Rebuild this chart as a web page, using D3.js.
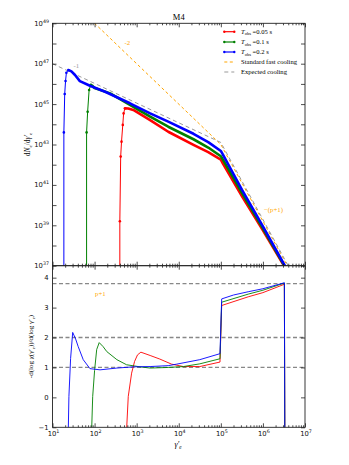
<!DOCTYPE html>
<html>
<head>
<meta charset="utf-8">
<script src="https://cdn.jsdelivr.net/npm/d3@7/dist/d3.min.js"></script>
<style>
  body { margin: 0; background: #fff; }
  svg { display: block; }
</style>
</head>
<body>
<div id="chart"></div>
<script>
// ---- data (log10 values) ----
var seriesNames = ["0.05 s", "0.1 s", "0.2 s"];
var seriesColors = ["#ff0000", "#008000", "#0000ff"];

// top panel: log10(gamma'_e) and log10(dN/dgamma)
var redTopLx   = [2.6, 2.6, 2.62, 2.64, 2.67, 2.69, 2.72, 2.8, 2.92, 3.32, 3.75, 4.35, 4.7, 5.0, 5.05, 5.5, 6.0, 6.5, 6.53];
var redTopLy   = [36, 39.2, 42.4, 43.14, 43.97, 44.54, 44.79, 44.78, 44.71, 44.21, 43.63, 42.98, 42.62, 42.25, 42.05, 40.45, 38.75, 37.0, 36];
var greenTopLx = [1.81, 1.81, 1.835, 1.87, 1.91, 1.95, 2.0, 2.37, 2.84, 3.32, 3.75, 4.35, 4.7, 5.0, 5.05, 5.5, 6.0, 6.51, 6.53];
var greenTopLy = [36, 43.6, 44.62, 45.7, 45.95, 45.9, 45.8, 45.53, 44.96, 44.38, 43.88, 43.26, 42.85, 42.42, 42.25, 40.6, 38.85, 37.0, 36];
var blueTopLx  = [1.27, 1.27, 1.29, 1.31, 1.33, 1.375, 1.45, 1.535, 1.65, 1.89, 2.25, 2.84, 3.32, 3.75, 4.35, 4.7, 5.0, 5.05, 5.5, 6.0, 6.52, 6.54];
var blueTopLy  = [36, 43.6, 45.5, 46.14, 46.55, 46.69, 46.62, 46.44, 46.14, 45.91, 45.61, 45.04, 44.54, 44.13, 43.53, 43.12, 42.68, 42.5, 40.77, 38.95, 37.0, 36];

// reference slopes
var fastLx = [1.9, 5.0, 6.6];
var fastLy = [49.2, 43.0, 36.92];
var expectedLx = [1.0, 5.0, 6.6];
var expectedLy = [47.0, 43.1, 37.0];

// bottom panel: log10(gamma'_e) and local slope
var redBotLx   = [2.76, 2.8, 2.88, 2.95, 3.02, 3.1, 3.32, 3.55, 3.83, 4.11, 4.5, 4.98, 5.02, 5.65, 6.0, 6.51, 6.52];
var redBotV    = [-1.1, 0.03, 0.81, 1.2, 1.42, 1.51, 1.4, 1.28, 1.11, 1.03, 1.03, 1.18, 3.07, 3.36, 3.5, 3.78, -1.1];
var greenBotLx = [1.93, 1.955, 2.0, 2.05, 2.11, 2.2, 2.29, 2.53, 2.76, 3.08, 3.32, 3.75, 4.11, 4.5, 4.98, 5.02, 5.65, 6.0, 6.51, 6.52];
var greenBotV  = [-1.1, 0.03, 0.9, 1.6, 1.83, 1.7, 1.53, 1.26, 1.09, 1.02, 0.98, 1.0, 1.03, 1.12, 1.29, 3.18, 3.45, 3.58, 3.82, -1.1];
var blueBotLx  = [1.375, 1.39, 1.43, 1.48, 1.55, 1.61, 1.73, 1.89, 2.13, 2.53, 2.92, 3.32, 3.75, 3.95, 4.5, 4.98, 5.02, 5.3, 5.65, 6.0, 6.51, 6.52];
var blueBotV   = [-1.1, 0.03, 1.3, 2.17, 1.95, 1.7, 1.26, 0.96, 0.92, 0.98, 1.02, 1.03, 1.06, 1.11, 1.26, 1.46, 3.29, 3.42, 3.53, 3.63, 3.83, -1.1];

var refLevels = [1, 2, 3.8];
var topTickExps = [37, 38, 39, 40, 41, 42, 43, 44, 45, 46, 47, 48, 49];
var xTickExps = [1, 2, 3, 4, 5, 6, 7];
var botTicks = [-1, 0, 1, 2, 3, 4];

var topSeries = [
  { lx: redTopLx, ly: redTopLy },
  { lx: greenTopLx, ly: greenTopLy },
  { lx: blueTopLx, ly: blueTopLy }
];
var botSeries = [
  { lx: redBotLx, v: redBotV },
  { lx: greenBotLx, v: greenBotV },
  { lx: blueBotLx, v: blueBotV }
];

// ---- layout ----
var width = 349, height = 465;
var left = 52.5, right = 305, top1 = 23.3, mid = 265.7, bottom = 427.3;
var serif = "'Liberation Serif', 'DejaVu Serif', serif";

var svg = d3.select("#chart").append("svg")
  .attr("width", width).attr("height", height);

var x = d3.scaleLog().domain([1e1, 1e7]).range([left, right]);
var yTop = d3.scaleLog().domain([1e37, 1e49]).range([mid, top1]);
var yBot = d3.scaleLinear().domain([-1, 4.4]).range([bottom, mid]);

var p10 = function(e) { return Math.pow(10, e); };

var defs = svg.append("defs");
defs.append("clipPath").attr("id", "clipTop").append("rect")
  .attr("x", left).attr("y", top1).attr("width", right - left).attr("height", mid - top1);
defs.append("clipPath").attr("id", "clipBot").append("rect")
  .attr("x", left).attr("y", mid).attr("width", right - left).attr("height", bottom - mid);

// ---- top panel ----
var gTop = svg.append("g").attr("clip-path", "url(#clipTop)");

var lineTop = d3.line()
  .x(function(d) { return x(p10(d[0])); })
  .y(function(d) { return yTop(p10(d[1])); });

gTop.append("path")
  .datum(d3.zip(fastLx, fastLy))
  .attr("d", lineTop)
  .attr("fill", "none").attr("stroke", "#ffa500")
  .attr("stroke-width", 1).attr("stroke-dasharray", "3,2.5");

gTop.append("path")
  .datum(d3.zip(expectedLx, expectedLy))
  .attr("d", lineTop)
  .attr("fill", "none").attr("stroke", "#999")
  .attr("stroke-width", 1).attr("stroke-dasharray", "4,3");

topSeries.forEach(function(s, i) {
  var pts = d3.zip(s.lx, s.ly);
  var peak = d3.maxIndex(s.ly);
  gTop.append("path")
    .datum(pts)
    .attr("d", lineTop)
    .attr("fill", "none").attr("stroke", seriesColors[i])
    .attr("stroke-width", 1);
  gTop.append("path")
    .datum(pts.slice(peak))
    .attr("d", lineTop)
    .attr("fill", "none").attr("stroke", seriesColors[i])
    .attr("stroke-width", 2.6).attr("stroke-linejoin", "round");
  gTop.selectAll(null)
    .data(pts.slice(1, peak + 1))
    .enter().append("circle")
    .attr("cx", function(d) { return x(p10(d[0])); })
    .attr("cy", function(d) { return yTop(p10(d[1])); })
    .attr("r", 1.3)
    .attr("fill", seriesColors[i]);
});

// ---- bottom panel ----
var gBot = svg.append("g").attr("clip-path", "url(#clipBot)");

gBot.selectAll(".ref")
  .data(refLevels)
  .enter().append("line")
  .attr("x1", left).attr("x2", right)
  .attr("y1", function(d) { return yBot(d); })
  .attr("y2", function(d) { return yBot(d); })
  .attr("stroke", "#888").attr("stroke-width", 1.3)
  .attr("stroke-dasharray", "4,2.5");

var lineBot = d3.line()
  .x(function(d) { return x(p10(d[0])); })
  .y(function(d) { return yBot(d[1]); });

botSeries.forEach(function(s, i) {
  gBot.append("path")
    .datum(d3.zip(s.lx, s.v))
    .attr("d", lineBot)
    .attr("fill", "none").attr("stroke", seriesColors[i])
    .attr("stroke-width", 0.9);
});

// ---- axes ----
var decadeVals = xTickExps.map(p10);
var minorVals = [];
xTickExps.slice(0, -1).forEach(function(e) {
  d3.range(2, 10).forEach(function(m) { minorVals.push(m * p10(e)); });
});

function xTicks(y, dir) {
  var major = dir > 0 ? d3.axisBottom(x) : d3.axisTop(x);
  svg.append("g").attr("transform", "translate(0," + y + ")")
    .call(major.tickValues(decadeVals).tickSize(-4).tickSizeOuter(0).tickFormat(""))
    .call(function(g) { g.select(".domain").remove(); });
  var minor = dir > 0 ? d3.axisBottom(x) : d3.axisTop(x);
  svg.append("g").attr("transform", "translate(0," + y + ")")
    .call(minor.tickValues(minorVals).tickSize(-2).tickSizeOuter(0).tickFormat(""))
    .call(function(g) { g.select(".domain").remove(); });
}
xTicks(top1, -1);
xTicks(mid, 1);
xTicks(mid, -1);
xTicks(bottom, 1);

// top y axis (left + right)
var topVals = topTickExps.map(p10);
svg.append("g").attr("transform", "translate(" + left + ",0)")
  .call(d3.axisLeft(yTop).tickValues(topVals).tickSize(-4).tickSizeOuter(0).tickFormat(""))
  .call(function(g) { g.select(".domain").remove(); });
svg.append("g").attr("transform", "translate(" + right + ",0)")
  .call(d3.axisRight(yTop).tickValues(topVals).tickSize(-4).tickSizeOuter(0).tickFormat(""))
  .call(function(g) { g.select(".domain").remove(); });

// bottom y axis (left + right)
svg.append("g").attr("transform", "translate(" + left + ",0)")
  .call(d3.axisLeft(yBot).tickValues(botTicks).tickSize(-4).tickSizeOuter(0).tickFormat(""))
  .call(function(g) { g.select(".domain").remove(); });
svg.append("g").attr("transform", "translate(" + right + ",0)")
  .call(d3.axisRight(yBot).tickValues(botTicks).tickSize(-4).tickSizeOuter(0).tickFormat(""))
  .call(function(g) { g.select(".domain").remove(); });

svg.selectAll(".tick line").attr("stroke", "#000").attr("stroke-width", 0.7);

// frames
[[top1, mid], [mid, bottom]].forEach(function(r) {
  svg.append("rect")
    .attr("x", left).attr("y", r[0])
    .attr("width", right - left).attr("height", r[1] - r[0])
    .attr("fill", "none").attr("stroke", "#222").attr("stroke-width", 0.9);
});

// tick labels
function powLabel(sel, base, exp) {
  sel.append("tspan").text(base);
  sel.append("tspan").attr("dy", -3).attr("font-size", 4.8).text(exp);
}

topTickExps.filter(function(e) { return e % 2 === 1; }).forEach(function(e) {
  var t = svg.append("text")
    .attr("x", left - 3.5).attr("y", yTop(p10(e)) + 2.5)
    .attr("text-anchor", "end")
    .attr("font-family", "'DejaVu Sans', sans-serif").attr("font-size", 6.8)
    .attr("fill", "#111");
  powLabel(t, "10", e);
});

xTickExps.forEach(function(e) {
  var t = svg.append("text")
    .attr("x", x(p10(e)) + 1).attr("y", bottom + 8.5)
    .attr("text-anchor", "middle")
    .attr("font-family", "'DejaVu Sans', sans-serif").attr("font-size", 6.8)
    .attr("fill", "#111");
  powLabel(t, "10", e);
});

botTicks.forEach(function(v) {
  svg.append("text")
    .attr("x", left - 4).attr("y", yBot(v) + 2.5)
    .attr("text-anchor", "end")
    .attr("font-family", "'DejaVu Sans', sans-serif").attr("font-size", 6.8)
    .attr("fill", "#111")
    .text(v < 0 ? "\u2212" + Math.abs(v) : v);
});

// title
svg.append("text")
  .attr("x", (left + right) / 2).attr("y", 20)
  .attr("text-anchor", "middle")
  .attr("font-family", serif).attr("font-size", 8.5)
  .text("M4");

// axis labels
var yl1 = svg.append("text")
  .attr("transform", "translate(30," + ((top1 + mid) / 2) + ") rotate(-90)")
  .attr("text-anchor", "middle")
  .attr("font-family", serif).attr("font-size", 7.5);
yl1.append("tspan").text("d");
yl1.append("tspan").attr("font-style", "italic").text("N");
yl1.append("tspan").attr("dy", 1.8).attr("font-size", 5).text("e");
yl1.append("tspan").attr("dy", -1.8).text("/d");
yl1.append("tspan").attr("font-style", "italic").text("γ′");
yl1.append("tspan").attr("dy", 1.8).attr("font-size", 5).text("e");

var yl2 = svg.append("text")
  .attr("transform", "translate(33," + ((mid + bottom) / 2) + ") rotate(-90)")
  .attr("text-anchor", "middle")
  .attr("font-family", serif).attr("font-size", 7);
yl2.append("tspan").text("-d(log χ(γ′");
yl2.append("tspan").attr("dy", 1.8).attr("font-size", 4.8).text("e");
yl2.append("tspan").attr("dy", -1.8).text("))/d(log γ′");
yl2.append("tspan").attr("dy", 1.8).attr("font-size", 4.8).text("e");
yl2.append("tspan").attr("dy", -1.8).text(")");

var xl = svg.append("text")
  .attr("x", 178).attr("y", 447)
  .attr("text-anchor", "middle")
  .attr("font-family", serif).attr("font-size", 8).attr("font-style", "italic");
xl.append("tspan").text("γ′");
xl.append("tspan").attr("dy", 2).attr("font-size", 5.2).text("e");

// annotations
svg.append("text").attr("x", 124.5).attr("y", 45)
  .attr("font-family", serif).attr("font-size", 6.8).attr("fill", "#ffa500").text("-2");
svg.append("text").attr("x", 73.5).attr("y", 68)
  .attr("font-family", serif).attr("font-size", 6.8).attr("fill", "#999").text("-1");
svg.append("text").attr("x", 264).attr("y", 211.5)
  .attr("font-family", serif).attr("font-size", 6.8).attr("fill", "#ffa500")
  .text("\u2212(p+1)");
svg.append("text").attr("x", 95).attr("y", 295.5)
  .attr("font-family", serif).attr("font-size", 6.8).attr("fill", "#ffa500")
  .text("p+1");

// legend
var legend = svg.append("g").attr("font-family", serif).attr("font-size", 6.6);
var lx0 = 224.3, lx1 = 234.3, ltx = 241;
var rows = [31.7, 42, 52, 62, 72];

seriesNames.forEach(function(name, i) {
  var yy = rows[i];
  legend.append("line")
    .attr("x1", lx0).attr("x2", lx1).attr("y1", yy).attr("y2", yy)
    .attr("stroke", seriesColors[i]).attr("stroke-width", 1.2);
  [lx0, lx1].forEach(function(cx) {
    legend.append("circle").attr("cx", cx).attr("cy", yy).attr("r", 1.2)
      .attr("fill", seriesColors[i]);
  });
  var t = legend.append("text").attr("x", ltx).attr("y", yy + 2.2);
  t.append("tspan").attr("font-style", "italic").text("T");
  t.append("tspan").attr("dy", 1.5).attr("font-size", 4.5).text("obs");
  t.append("tspan").attr("dy", -1.5).text(" =" + name);
});

legend.append("line")
  .attr("x1", lx0).attr("x2", lx1).attr("y1", rows[3]).attr("y2", rows[3])
  .attr("stroke", "#ffa500").attr("stroke-width", 1).attr("stroke-dasharray", "3,2.5");
legend.append("text").attr("x", ltx).attr("y", rows[3] + 2.2).text("Standard fast cooling");
legend.append("line")
  .attr("x1", lx0).attr("x2", lx1).attr("y1", rows[4]).attr("y2", rows[4])
  .attr("stroke", "#999").attr("stroke-width", 1).attr("stroke-dasharray", "4,3");
legend.append("text").attr("x", ltx).attr("y", rows[4] + 2.2).text("Expected cooling");
</script>
</body>
</html>
